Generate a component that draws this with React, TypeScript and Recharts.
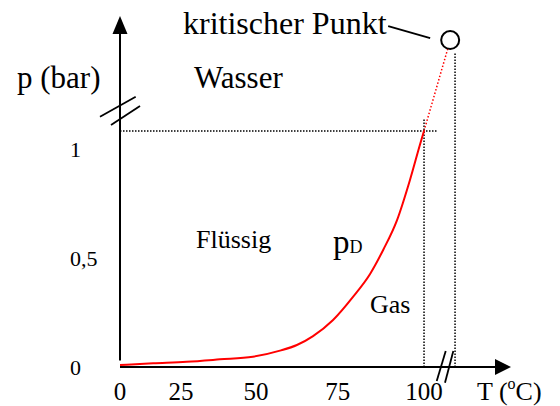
import React from 'react';
import { LineChart, Line, XAxis, YAxis, ReferenceLine, ReferenceDot } from 'recharts';

// Vapour pressure curve of water (T in °C, p in bar)
const temperatures = [0, 14.8, 27.0, 38.3, 49.0, 57.5, 62.7, 67.6, 73.6, 79.5, 84.5, 88.3, 92.3, 96.0, 98.9, 100];
const pressures = [0.009, 0.017, 0.024, 0.035, 0.047, 0.075, 0.101, 0.142, 0.216, 0.322, 0.427, 0.537, 0.674, 0.858, 1.023, 1.083];

const xTicks = [0, 25, 50, 75, 100];
const xTickLabels = ['0', '25', '50', '75', '100'];
const yTicks = [0, 0.5, 1];
const yTickLabels = ['0', '0,5', '1'];

// axis extents (beyond the breaks)
const xMax = 124;
const yMax = 1.53;

// points placed beyond the axis breaks (real critical point: 374 °C, 221 bar)
const boilingPoint = { T: 100, p: 1.083 };
const criticalPoint = { T: 108.6, p: 1.5 };
const criticalEdge = { T: 107.8, p: 1.46 };
const criticalDrop = { T: 110.2, p: 1.44 };
const boilingTop = 1.142;
const horizontalEnd = 104.6;
const xBreakT = 106.9;
const yBreakP = 1.17;

const data = temperatures.map((T, i) => ({ T, p: pressures[i] }));

const FONT = 'Liberation Serif, Times New Roman, serif';

// sketch-like non linear temperature axis (power warp up to 100, linear after)
function warpedScale(exponent: number, pivot: number): any {
  let dom: number[] = [0, 1];
  let rng: number[] = [0, 1];
  const warp = (v: number) =>
    v <= pivot ? pivot * Math.pow(Math.max(v, 0) / pivot, exponent) : v;
  const unwarp = (u: number) =>
    u <= pivot ? pivot * Math.pow(Math.max(u, 0) / pivot, 1 / exponent) : u;
  const scale: any = (v: number) => {
    const a = warp(dom[0]);
    const b = warp(dom[dom.length - 1]);
    return rng[0] + ((rng[rng.length - 1] - rng[0]) * (warp(Number(v)) - a)) / (b - a);
  };
  scale.domain = (d?: any[]) => {
    if (d === undefined) return dom.slice();
    dom = d.map(Number);
    return scale;
  };
  scale.range = (r?: any[]) => {
    if (r === undefined) return rng.slice();
    rng = r.map(Number);
    return scale;
  };
  scale.invert = (px: number) => {
    const a = warp(dom[0]);
    const b = warp(dom[dom.length - 1]);
    const u = a + ((px - rng[0]) * (b - a)) / (rng[rng.length - 1] - rng[0]);
    return unwarp(u);
  };
  scale.copy = () => warpedScale(exponent, pivot).domain(dom).range(rng);
  scale.ticks = (n: number = 5) => {
    const step = (dom[dom.length - 1] - dom[0]) / n;
    const out: number[] = [];
    for (let i = 0; i <= n; i++) out.push(dom[0] + i * step);
    return out;
  };
  scale.tickFormat = () => (v: number) => String(v);
  scale.nice = () => scale;
  scale.clamp = () => scale;
  return scale;
}

const xScale = warpedScale(1.16, 100);

const XArrow = (props: any) => {
  const { cx, cy } = props;
  return <polygon points={`${cx - 2},${cy - 8} ${cx + 14},${cy} ${cx - 2},${cy + 8}`} fill="#000" />;
};

const YArrow = (props: any) => {
  const { cx, cy } = props;
  return <polygon points={`${cx - 7.5},${cy + 0.5} ${cx},${cy - 17.5} ${cx + 7.5},${cy + 0.5}`} fill="#000" />;
};

const XBreak = (props: any) => {
  const { cx, cy } = props;
  return (
    <g stroke="#000" strokeWidth={1.8}>
      <line x1={cx - 8.3} y1={cy + 14} x2={cx + 0.7} y2={cy - 16} />
      <line x1={cx} y1={cy + 15.7} x2={cx + 8.3} y2={cy - 16} />
    </g>
  );
};

const YBreak = (props: any) => {
  const { cx, cy } = props;
  return (
    <g stroke="#000" strokeWidth={1.8}>
      <line x1={cx - 20} y1={cy + 4.7} x2={cx + 15.7} y2={cy - 15.3} />
      <line x1={cx - 9} y1={cy + 13} x2={cx + 20} y2={cy - 6} />
    </g>
  );
};

const CriticalMark = (props: any) => {
  const { cx, cy } = props;
  return (
    <g>
      <line x1={cx - 62} y1={cy - 14} x2={cx - 20} y2={cy - 2} stroke="#000" strokeWidth={1.8} />
      <circle cx={cx} cy={cy} r={9} fill="#fff" stroke="#000" strokeWidth={2} />
    </g>
  );
};

const dotted = { stroke: '#000', strokeWidth: 1.5, strokeDasharray: '1.5 1.5' };

export default function App() {
  return (
    <div style={{ position: 'absolute', left: 0, top: 0, background: '#fff', fontFamily: FONT }}>
      <LineChart
        width={560}
        height={406}
        data={data}
        margin={{ top: 33.5, right: 63, bottom: 0, left: 0 }}
        style={{ fontFamily: FONT }}
      >
        <XAxis
          dataKey="T"
          type="number"
          scale={xScale}
          domain={[0, xMax]}
          allowDataOverflow
          ticks={xTicks}
          interval={0}
          tickFormatter={(v: number) => xTickLabels[xTicks.indexOf(v)] ?? ''}
          tickLine={false}
          tickSize={0}
          tickMargin={15}
          height={39}
          axisLine={{ stroke: '#000', strokeWidth: 2 }}
          tick={{ fontSize: 25, fill: '#000', fontFamily: FONT }}
        />
        <YAxis
          type="number"
          domain={[0, yMax]}
          allowDataOverflow
          ticks={yTicks}
          interval={0}
          tickFormatter={(v: number) => yTickLabels[yTicks.indexOf(v)] ?? ''}
          width={120}
          tickLine={false}
          tickSize={0}
          tickMargin={50}
          axisLine={false}
          tick={{ fontSize: 22, fill: '#000', fontFamily: FONT, textAnchor: 'start' }}
        />
        <ReferenceLine
          segment={[{ x: 0, y: 0.03 }, { x: 0, y: yMax }]}
          stroke="#000"
          strokeWidth={2}
        />
        <ReferenceLine
          segment={[{ x: 0, y: boilingPoint.p }, { x: horizontalEnd, y: boilingPoint.p }]}
          {...dotted}
        />
        <ReferenceLine
          segment={[{ x: boilingPoint.T, y: 0 }, { x: boilingPoint.T, y: boilingTop }]}
          {...dotted}
        />
        <ReferenceLine
          segment={[{ x: criticalDrop.T, y: 0 }, { x: criticalDrop.T, y: criticalDrop.p }]}
          {...dotted}
        />
        <ReferenceLine
          segment={[{ x: boilingPoint.T, y: boilingPoint.p }, { x: criticalEdge.T, y: criticalEdge.p }]}
          stroke="#ff0000"
          strokeWidth={1.5}
          strokeDasharray="1.5 2"
        />
        <Line
          type="monotone"
          dataKey="p"
          stroke="#ff0000"
          strokeWidth={2}
          dot={false}
          activeDot={false}
          isAnimationActive={false}
        />
        <ReferenceDot x={xMax} y={0} shape={XArrow} />
        <ReferenceDot x={0} y={yMax} shape={YArrow} />
        <ReferenceDot x={xBreakT} y={0} shape={XBreak} />
        <ReferenceDot x={0} y={yBreakP} shape={YBreak} />
        <ReferenceDot x={criticalPoint.T} y={criticalPoint.p} shape={CriticalMark} />
        <g style={{ fontFamily: FONT }} fill="#000">
          <text x={183} y={34} fontSize={32}>kritischer Punkt</text>
          <text x={17} y={88} fontSize={31}>p (bar)</text>
          <text x={194} y={88} fontSize={31}>Wasser</text>
          <text x={196} y={248} fontSize={26}>Flüssig</text>
          <text x={333} y={253} fontSize={33}>
            p<tspan fontSize={18}>D</tspan>
          </text>
          <text x={370} y={313} fontSize={26}>Gas</text>
          <text x={477} y={400} fontSize={26}>
            T (<tspan fontSize={16} dy={-11}>o</tspan>
            <tspan dy={11}>C)</tspan>
          </text>
        </g>
      </LineChart>
    </div>
  );
}
